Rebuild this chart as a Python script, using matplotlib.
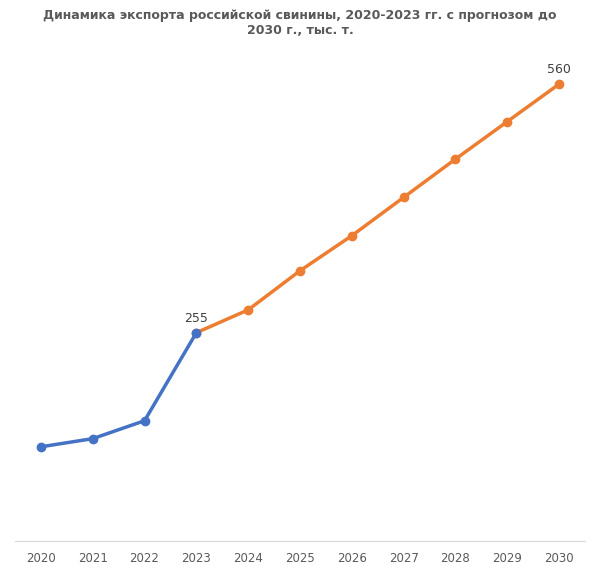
import matplotlib.pyplot as plt

years_fact = [2020, 2021, 2022, 2023]
export_fact = [115, 125, 147, 255]
years_fc = [2023, 2024, 2025, 2026, 2027, 2028, 2029, 2030]
export_fc = [255, 283, 331, 374, 421, 468, 514, 560]
all_years = list(range(2020, 2031))

fig = plt.figure(figsize=(6, 5.72), dpi=100)
ax = fig.add_axes([0.025, 0.055, 0.95, 0.855])

ax.plot(years_fc, export_fc, '-o', color='#ED7D31', lw=2.5, ms=6)
ax.plot(years_fact, export_fact, '-o', color='#4472C4', lw=2.5, ms=6)

ax.annotate(str(export_fact[-1]), (years_fact[-1], export_fact[-1]),
            xytext=(0, 8), textcoords='offset points', ha='center',
            fontsize=9, color='#404040')
ax.annotate(str(export_fc[-1]), (years_fc[-1], export_fc[-1]),
            xytext=(0, 8), textcoords='offset points', ha='center',
            fontsize=9, color='#404040')

ax.set_xlim(2019.5, 2030.5)
ax.set_ylim(0, 600)
ax.set_xticks(all_years)
ax.set_yticks([])
ax.tick_params(axis='x', length=0, labelsize=8.5, labelcolor='#595959', pad=8)
for s in ['top', 'right', 'left']:
    ax.spines[s].set_visible(False)
ax.spines['bottom'].set_color('#D9D9D9')

fig.text(0.5, 0.985, "Динамика экспорта российской свинины, 2020-2023 гг. с прогнозом до\n2030 г., тыс. т.",
         ha='center', va='top', fontsize=9, fontweight='bold', color='#595959')

fig.savefig('out.png')
